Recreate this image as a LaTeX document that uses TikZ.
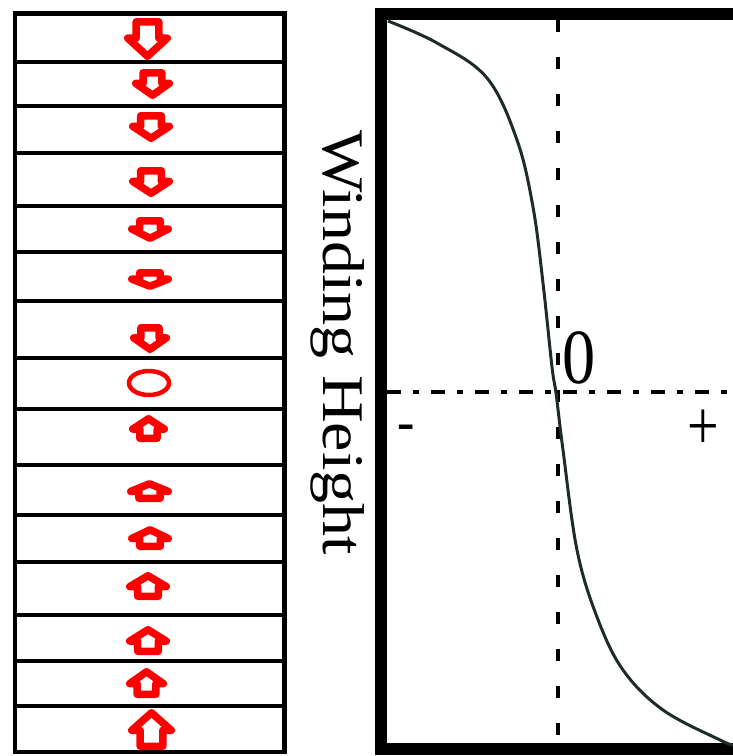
\documentclass[tikz,border=0pt]{standalone}
\usepackage{fontspec}
\setmainfont{Liberation Serif}
\usepackage{xcolor}
\usepackage{tikz}
\definecolor{spinred}{HTML}{FF0000}
\definecolor{curvegray}{HTML}{1F2B2B}
\def\stackl{15}
\def\stackr{284.5}
% center x, center y, width, height, 1 = down / -1 = up
\newcommand{\spinarrow}[5]{%
	\begin{scope}[shift={(#1,#2)}, yscale=#5]
		\draw[spin] ({-0.32*#3+3.75},{-#4/2+3.75}) -- ({0.32*#3-3.75},{-#4/2+3.75}) -- ({0.32*#3-3.75},{-0.02*#4})
			-- ({#3/2-3.75},{-0.02*#4}) -- (0,{#4/2-3.75}) -- ({-#3/2+3.75},{-0.02*#4}) -- ({-0.32*#3+3.75},{-0.02*#4}) -- cycle;
	\end{scope}}

\begin{document}
\begin{tikzpicture}[x=1pt, y=-1pt,
		cellline/.style={line width=4.5pt},
		spin/.style={draw=spinred, fill=white, line width=7.5pt, line join=round},
		frame/.style={line width=12pt},
		curve/.style={draw=curvegray, line width=3pt},
		axisv/.style={line width=3.5pt, dash pattern=on 12pt off 25pt},
		axish/.style={line width=3.5pt, dash pattern=on 14pt off 12pt on 6pt off 12pt}]
	\useasboundingbox (0,0) rectangle (733,756);
	% layer stack
	\draw[cellline] (\stackl,13.5) rectangle (\stackr,752);
	\foreach \y in {62,106,153,206,252,301,358,409,465,515,562,615,661,706}
		\draw[cellline] (\stackl,\y) -- (\stackr,\y);
	\foreach \cx/\cy/\w/\h/\d in {147.5/39/47/42/1, 152.5/84/41/30/1, 151/127/44/30/1,
			151/182/44/30/1, 150/229.5/44/25/1, 150/279.5/44/21/1, 150/338.5/40/29/1,
			148.5/428.5/39/27/-1, 149.5/491/45/22/-1, 150/538/44/24/-1, 148/586/44/28/-1,
			148/640.5/44/29/-1, 146.5/683/41/30/-1, 151.5/729.5/47/41/-1}
		\spinarrow{\cx}{\cy}{\w}{\h}{\d};
	\draw[spinred, line width=4.5pt] (149,383) ellipse [x radius=20pt, y radius=12pt];
	% winding profile
	\node[font=\fontsize{59}{59}\selectfont, rotate=-90, xscale=1.12, anchor=base] (height) at (323,342.5) {Winding Height};
	\draw[frame] (745,13.5) -- (381,13.5) -- (381,749) -- (745,749);
	\draw[axisv] (558,20) -- (558,743);
	\draw[axish] (387,392) -- (733,392);
	\draw[curve] plot[smooth, tension=0.6] coordinates {(388,21) (437,43) (487,78) (517,140) (533,207)
		(543,283) (552,367) (556,393) (563,450) (577,550) (597,617) (623,670) (663,710) (720,740) (733,745)};
	\node[font=\fontsize{78}{78}\selectfont, xscale=0.85, inner sep=0] (zero) at (579,358) {0};
	\node[font=\fontsize{52}{52}\selectfont\bfseries, inner sep=0, anchor=base] (minus) at (406,439) {-};
	\node[font=\fontsize{56}{56}\selectfont, inner sep=0, yscale=1.25] (plus) at (703,430) {+};
\end{tikzpicture}
\end{document}
